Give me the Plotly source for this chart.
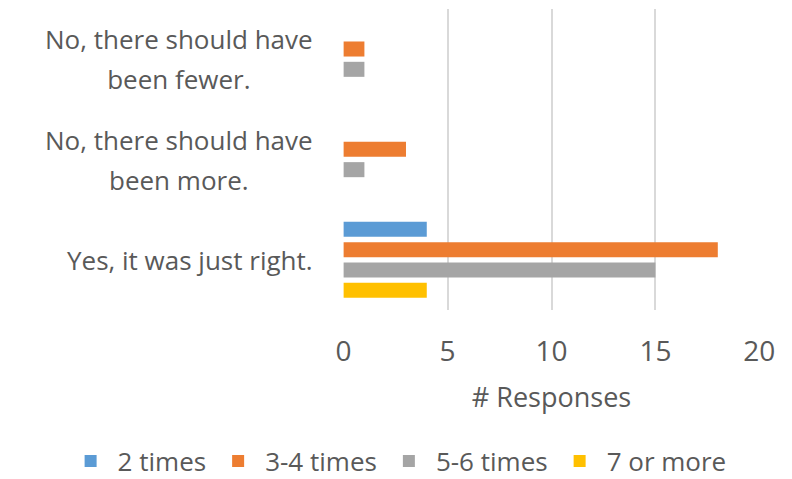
import plotly.graph_objects as go

categories = ["No, there should have<br>been fewer.",
              "No, there should have<br>been more.",
              "Yes, it was just right."]
series_names = ["2 times", "3-4 times", "5-6 times", "7 or more"]
series_colors = ["#5B9BD5", "#ED7D31", "#A5A5A5", "#FFC000"]
# values per series, aligned with categories (fewer, more, just right)
v_2 = [0, 0, 4]
v_34 = [1, 3, 18]
v_56 = [1, 1, 15]
v_7 = [0, 0, 4]
series_values = [v_2, v_34, v_56, v_7]
x_ticks = [0, 5, 10, 15, 20]

FONT = "Open Sans"
TXT = "#595959"

fig = go.Figure()
for name, vals, col in zip(series_names, series_values, series_colors):
    fig.add_trace(go.Bar(
        y=categories, x=vals, name=name, orientation="h",
        marker=dict(color=col, line=dict(width=0)),
    ))

for cat in categories:
    label = "<br>".join("<span style='font-size:26px'>%s</span>" % ln for ln in cat.split("<br>"))
    fig.add_annotation(
        x=-0.068, xref="paper", y=cat, yref="y",
        text=label, showarrow=False, xanchor="right", yanchor="middle",
        align="center", font=dict(family=FONT, size=31, color=TXT),
    )

fig.update_layout(
    width=792, height=479,
    margin=dict(l=343.4, r=32.4, t=9, b=169, autoexpand=False),
    paper_bgcolor="white", plot_bgcolor="white",
    barmode="group", bargap=0.19, bargroupgap=0.26,
    font=dict(family=FONT, color=TXT),
    showlegend=True,
    legend=dict(
        orientation="h", xref="paper", yref="paper",
        x=-0.67, xanchor="left", y=(310 - 461) / 301, yanchor="middle",
        font=dict(family=FONT, size=26, color=TXT),
        itemwidth=44, traceorder="normal",
    ),
    xaxis=dict(
        range=[-0.03, 20.03], tickvals=x_ticks, ticktext=[str(t) for t in x_ticks],
        showgrid=True, gridcolor="#D9D9D9", gridwidth=1.5,
        zeroline=False, showline=False, ticks="", automargin=False,
        tickfont=dict(family=FONT, size=28, color=TXT),
        ticklabelstandoff=22,
        title=dict(text="# Responses", font=dict(family=FONT, size=27, color=TXT), standoff=20),
    ),
    yaxis=dict(
        categoryorder="array", categoryarray=categories,
        range=[2.5, -0.5], showticklabels=False, showgrid=False,
        zeroline=False, showline=False, ticks="", automargin=False,
    ),
)

fig.write_html("out.html")
